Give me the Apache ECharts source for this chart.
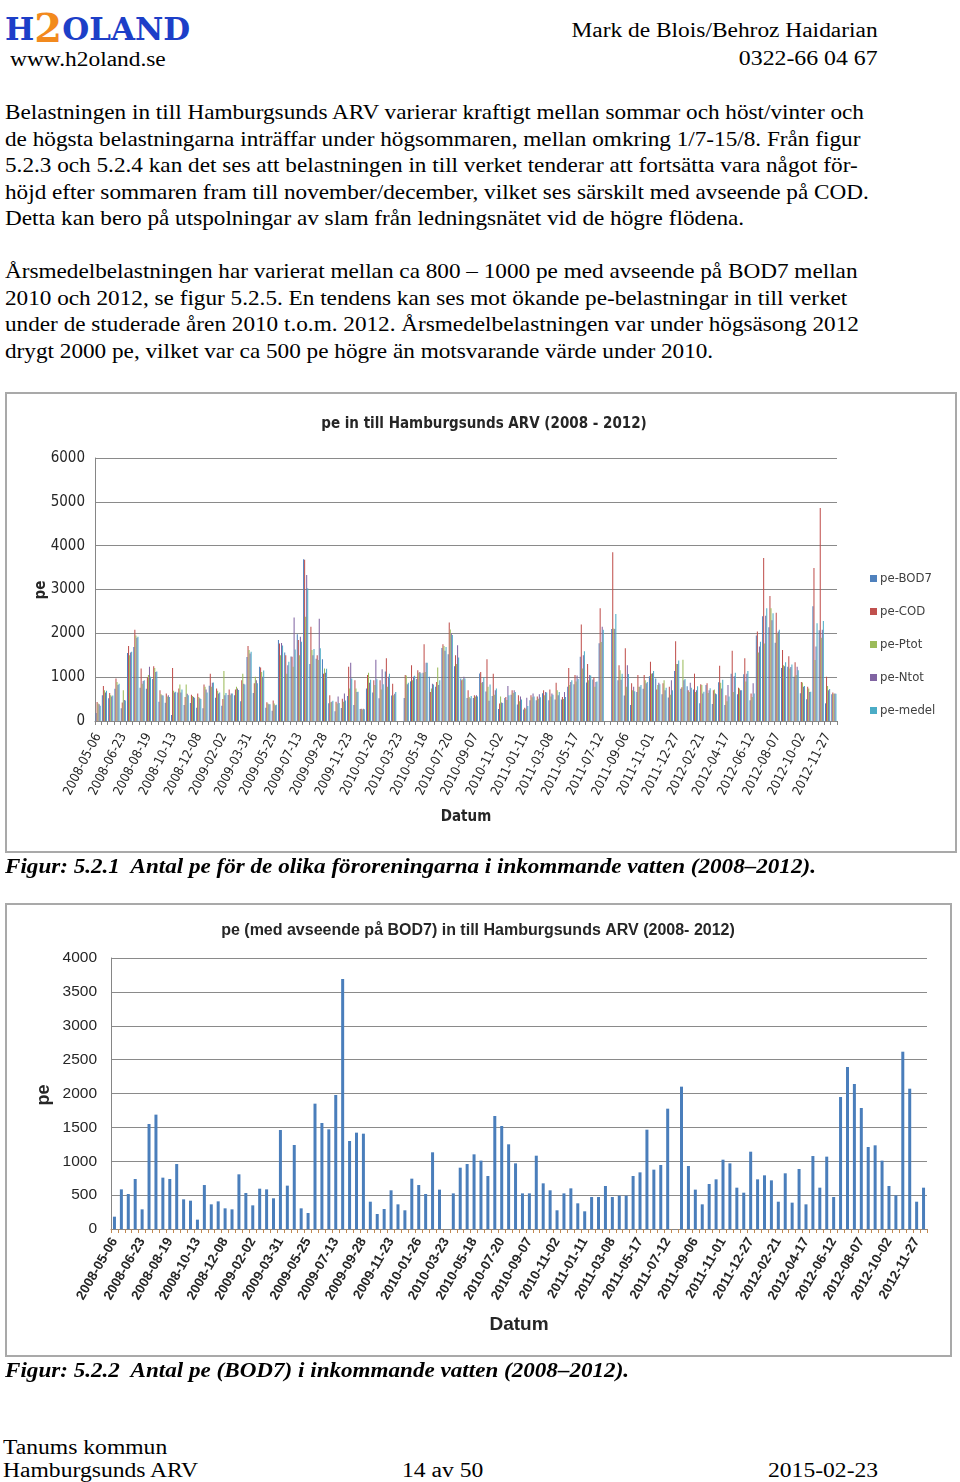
<!DOCTYPE html>
<html><head><meta charset="utf-8">
<script src="https://cdn.jsdelivr.net/npm/echarts@6/dist/echarts.min.js"></script>
<style>
html,body{margin:0;padding:0;background:#fff;}
body{width:960px;height:1482px;position:relative;overflow:hidden;font-family:"Liberation Serif","Times New Roman",serif;color:#000;}
.abs{position:absolute;white-space:nowrap;}
.txt{font-size:21px;line-height:26.5px;left:5px;transform:scaleX(1.105);transform-origin:0 50%;}
.frame{position:absolute;border:2px solid #a9a9a9;box-sizing:border-box;pointer-events:none;}
.cap{font-weight:bold;font-style:italic;font-size:21px;left:5px;transform:scaleX(1.10);transform-origin:0 50%;}
.hdr{font-size:20px;transform-origin:100% 50%;}
.ftr{font-size:20px;transform:scaleX(1.18);transform-origin:0 50%;}
</style></head>
<body>
<div class="abs" style="left:5px;top:2px;font-family:'DejaVu Serif',serif;font-weight:bold;font-size:31px;color:#1d3fc8;"><span>H</span><span style="color:#f28a1e;font-size:40px;position:relative;top:2px;">2</span><span>OLAND</span></div>
<div class="abs" style="left:10px;top:48px;font-size:20px;transform:scaleX(1.17);transform-origin:0 50%;">www.h2oland.se</div>
<div class="abs hdr" style="right:82px;top:19px;transform:scaleX(1.17);">Mark de Blois/Behroz Haidarian</div>
<div class="abs hdr" style="right:82px;top:47px;transform:scaleX(1.19);">0322-66 04 67</div>

<div class="abs txt" style="top:99px;">Belastningen in till Hamburgsunds ARV varierar kraftigt mellan sommar och höst/vinter och</div>
<div class="abs txt" style="top:125.5px;">de högsta belastningarna inträffar under högsommaren, mellan omkring 1/7-15/8. Från figur</div>
<div class="abs txt" style="top:152px;">5.2.3 och 5.2.4 kan det ses att belastningen in till verket tenderar att fortsätta vara något för-</div>
<div class="abs txt" style="top:178.5px;">höjd efter sommaren fram till november/december, vilket ses särskilt med avseende på COD.</div>
<div class="abs txt" style="top:205px;">Detta kan bero på utspolningar av slam från ledningsnätet vid de högre flödena.</div>
<div class="abs txt" style="top:258px;">Årsmedelbelastningen har varierat mellan ca 800 – 1000 pe med avseende på BOD7 mellan</div>
<div class="abs txt" style="top:284.5px;">2010 och 2012, se figur 5.2.5. En tendens kan ses mot ökande pe-belastningar in till verket</div>
<div class="abs txt" style="top:311px;">under de studerade åren 2010 t.o.m. 2012. Årsmedelbelastningen var under högsäsong 2012</div>
<div class="abs txt" style="top:337.5px;">drygt 2000 pe, vilket var ca 500 pe högre än motsvarande värde under 2010.</div>

<div id="c1" style="position:absolute;left:5px;top:392px;width:952px;height:461px;"></div>
<div class="frame" style="left:5px;top:392px;width:952px;height:461px;"></div>
<div class="abs cap" style="top:854px;">Figur: 5.2.1&nbsp; Antal pe för de olika föroreningarna i inkommande vatten (2008–2012).</div>

<div id="c2" style="position:absolute;left:5px;top:903px;width:947px;height:454px;"></div>
<div class="frame" style="left:5px;top:903px;width:947px;height:454px;"></div>
<div class="abs cap" style="top:1358px;">Figur: 5.2.2&nbsp; Antal pe (BOD7) i inkommande vatten (2008–2012).</div>

<div class="abs ftr" style="left:3px;top:1436px;">Tanums kommun</div>
<div class="abs ftr" style="left:3px;top:1459px;">Hamburgsunds ARV</div>
<div class="abs ftr" style="left:402px;top:1459px;">14 av 50</div>
<div class="abs ftr" style="left:768px;top:1459px;">2015-02-23</div>

<script>
// ---- data ----
const tickLabels = ['2008-05-06','2008-06-23','2008-08-19','2008-10-13','2008-12-08','2009-02-02','2009-03-31','2009-05-25','2009-07-13','2009-09-28','2009-11-23','2010-01-26','2010-03-23','2010-05-18','2010-07-20','2010-09-07','2010-11-02','2011-01-11','2011-03-08','2011-05-17','2011-07-12','2011-09-06','2011-11-01','2011-12-27','2012-02-21','2012-04-17','2012-06-12','2012-08-07','2012-10-02','2012-11-27'];
const labelEvery = 4;

const peBOD7 = [182,585,517,738,290,1550,1688,758,738,959,438,418,138,649,364,408,305,290,807,531,349,595,585,453,1461,640,1240,305,236,1850,1565,1471,1978,3690,1299,1422,1407,403,221,295,571,364,276,743,649,517,1132,581,null,526,905,959,1102,1009,782,1668,1520,1250,969,526,526,1082,674,571,276,526,600,379,261,472,472,635,472,492,492,782,836,1466,876,945,1776,null,2101,930,581,364,664,733,1023,969,610,536,1141,733,792,718,403,822,389,886,364,1077,610,1068,472,1948,2391,2140,1786,1210,1235,1009,635,497,2617,2071,403,610];
const peCOD = [435,800,640,970,420,1710,2080,1200,1000,1250,700,630,1210,740,550,600,630,830,1080,740,500,720,720,930,1710,860,1220,430,470,1770,1500,1465,1850,3680,2150,1500,1080,590,440,510,1240,930,280,1050,930,930,1430,850,null,1050,1270,1160,1750,660,890,1750,2250,1500,930,700,590,1120,1410,1080,400,550,700,590,300,590,560,700,720,870,550,1210,1050,2200,1300,990,2570,null,3850,1270,1660,860,1050,1050,1350,720,860,780,1820,770,700,1080,840,860,700,1260,590,1600,760,1430,630,2040,3720,2850,2470,1620,1480,1340,890,780,3490,4860,1010,650];
const pePtot = [397,700,590,890,700,1500,1950,850,1050,1210,610,560,690,830,830,570,550,780,780,690,1140,590,780,1080,1620,1010,1120,400,400,1500,1080,1240,1500,2380,1620,1390,1200,430,400,440,740,740,260,1100,820,720,780,590,null,1040,930,1100,1120,740,1220,1710,2090,1300,950,550,560,870,780,600,560,480,640,450,280,540,510,590,560,700,500,820,900,1200,930,780,1800,null,2110,1160,780,700,780,930,1080,820,930,600,1300,1400,660,660,820,640,720,870,450,660,740,900,550,1560,1770,2570,2000,1270,1200,1050,880,740,1390,1900,800,620];
const peNtot = [380,650,560,820,480,1560,1900,910,1240,1120,590,590,650,650,620,550,520,720,870,630,590,630,740,850,1540,930,1010,380,360,1780,1270,2360,1920,3330,1500,2330,1100,440,560,630,1330,660,280,870,1400,1180,1010,620,null,840,1010,1120,1330,850,820,1600,2000,1730,1010,520,590,890,460,700,420,800,700,560,530,630,610,660,630,590,660,890,1040,1500,1050,890,2150,null,2100,940,1270,780,780,860,1090,870,700,930,1300,930,870,700,630,700,630,740,820,1020,700,1080,860,1700,2400,2300,2040,1250,1230,1240,780,660,1700,2080,700,630];
const peMedel = [350,690,580,850,470,1580,1920,930,1010,1130,580,550,670,720,590,530,500,650,880,650,640,630,710,830,1580,860,1150,380,370,1720,1350,1630,1810,3030,1640,1660,1190,460,410,470,970,670,270,940,950,840,1080,660,null,870,1030,1090,1330,830,930,1690,1960,1450,970,570,560,990,830,740,410,590,660,490,340,560,540,650,600,660,550,930,960,1590,1040,900,2080,null,2440,1080,1070,680,820,890,1140,840,760,700,1380,960,760,790,670,750,610,940,560,1100,700,1140,630,1810,2570,2460,2080,1340,1290,1160,800,670,2230,2280,730,620];

const seriesNames = ['pe-BOD7','pe-COD','pe-Ptot','pe-Ntot','pe-medel'];
const seriesColors = ['#4F81BD','#C0504D','#9BBB59','#8064A2','#4BACC6'];

const categories = peBOD7.map((_, i) => i % labelEvery === 0 ? tickLabels[i / labelEvery] : '');

const narrow = '"Liberation Sans Narrow","Arial Narrow","DejaVu Sans Condensed",sans-serif';
const sans = '"Liberation Sans",Arial,sans-serif';
const plain = v => String(v);

function yName(x, y, font, size) {
  return {type:'text', x:x, y:y, rotation:Math.PI/2,
    style:{text:'pe', fontFamily:font, fontWeight:'bold', fontSize:size, fill:'#262626',
      textAlign:'center', textVerticalAlign:'middle'}};
}

// ---- chart 1 ----
const c1 = echarts.init(document.getElementById('c1'));
c1.setOption({
  animation:false,
  title:{text:'pe in till Hamburgsunds ARV (2008 - 2012)',left:479-5,textAlign:'center',top:20,
    textStyle:{fontFamily:narrow,fontWeight:'bold',fontSize:15,color:'#262626'}},
  legend:{orient:'vertical',left:860,top:175,itemGap:20,itemWidth:7,itemHeight:7,icon:'rect',
    textStyle:{fontFamily:narrow,fontSize:13,color:'#404040',padding:[0,0,0,-2]},data:seriesNames},
  graphic:[yName(36, 198, narrow, 15)],
  grid:{left:90,top:66,width:742,height:263,containLabel:false},
  xAxis:{type:'category',data:categories,name:'Datum',nameLocation:'middle',nameGap:89,
    nameTextStyle:{fontFamily:narrow,fontWeight:'bold',fontSize:15,color:'#262626'},
    axisLine:{lineStyle:{color:'#868686'}},
    axisTick:{show:true,interval:0,length:4,lineStyle:{color:'#868686'}},
    axisLabel:{interval:labelEvery-1,rotate:63,margin:13,fontFamily:narrow,fontSize:13,color:'#262626'}},
  yAxis:{type:'value',min:0,max:6000,interval:1000,
    axisLine:{show:true,lineStyle:{color:'#868686'}},axisTick:{show:false},
    axisLabel:{margin:10,fontFamily:narrow,fontSize:15,color:'#262626',formatter:plain},
    splitLine:{lineStyle:{color:'#8a8a8a',width:1}}},
  series:[peBOD7,peCOD,pePtot,peNtot,peMedel].map((d,k)=>({
    name:seriesNames[k],type:'bar',data:d,barGap:'0%',barCategoryGap:'18%',
    itemStyle:{color:seriesColors[k]}}))
});

// ---- chart 2 ----
const c2 = echarts.init(document.getElementById('c2'));
c2.setOption({
  animation:false,
  title:{text:'pe (med avseende på BOD7) in till Hamburgsunds ARV (2008- 2012)',left:473-5,textAlign:'center',top:15,
    textStyle:{fontFamily:sans,fontWeight:'bold',fontSize:16,color:'#262626'}},
  graphic:[yName(39, 192, sans, 18)],
  grid:{left:106,top:55,width:816,height:271,containLabel:false},
  xAxis:{type:'category',data:categories,name:'Datum',nameLocation:'middle',nameGap:86,
    nameTextStyle:{fontFamily:sans,fontWeight:'bold',fontSize:19,color:'#262626'},
    axisLine:{lineStyle:{color:'#868686'}},
    axisTick:{show:true,interval:0,length:4,lineStyle:{color:'#c08850'}},
    axisLabel:{interval:labelEvery-1,rotate:60,margin:10,fontFamily:sans,fontWeight:'bold',fontSize:13.5,color:'#262626'}},
  yAxis:{type:'value',min:0,max:4000,interval:500,
    axisLine:{show:true,lineStyle:{color:'#868686'}},axisTick:{show:false},
    axisLabel:{margin:14,fontFamily:sans,fontSize:15.5,color:'#262626',formatter:plain},
    splitLine:{lineStyle:{color:'#8a8a8a',width:1}}},
  series:[{name:'pe-BOD7',type:'bar',data:peBOD7,barWidth:3,itemStyle:{color:'#4a7ebb'}}]
});
</script>
</body></html>
